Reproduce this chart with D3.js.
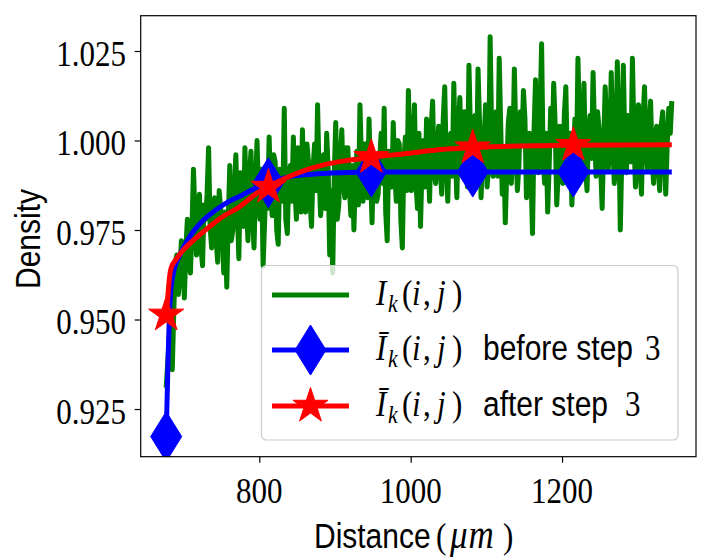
<!DOCTYPE html>
<html><head><meta charset="utf-8">
<script src="https://cdn.jsdelivr.net/npm/d3@7"></script>
<style>body{margin:0;background:#fff}</style>
</head><body>
<svg id="chart" width="712" height="559"></svg>
<script>
// ---------- data ----------
const xTicks = [800, 1000, 1200];
const xTickLabels = ["800", "1000", "1200"];
const yTicks = [0.925, 0.950, 0.975, 1.000, 1.025];
const yTickLabels = ["0.925", "0.950", "0.975", "1.000", "1.025"];

// I_k(i,j) samples (two interleaved sets of distances)
const greenX = [677,681,685,689,693,697,701,705,709,713,
717,721,725,729,733,737,741,745,749,753,
757,761,765,769,773,777,781,785,789,793,
797,801,805,809,813,817,821,825,829,833,
837,841,845,849,853,857,861,865,869,873,
877,881,885,889,893,897,901,905,909,913,
917,921,925,929,933,937,941,945,949,953,
957,961,965,969,973,977,981,985,989,993,
997,1001,1005,1009,1013,1017,1021,1025,1029,1033,
1037,1041,1045,1049,1053,1057,1061,1065,1069,1073,
1077,1081,1085,1089,1093,1097,1101,1105,1109,1113,
1117,1121,1125,1129,1133,1137,1141,1145,1149,1153,
1157,1161,1165,1169,1173,1177,1181,1185,1189,1193,
1197,1201,1205,1209,1213,1217,1221,1225,1229,1233,
1237,1241,1245,1249,1253,1257,1261,1265,1269,1273,
1277,1281,1285,1289,1293,1297,1301,1305,1309,1313,
1317,1321,1325,1329,1333,1337,1341,1345];
const greenY = [0.931,0.945,0.936,0.966,0.957,0.972,0.956,0.978,0.963,0.992,
0.968,0.985,0.965,0.978,0.998,0.970,0.984,0.966,0.981,0.963,
0.959,0.993,0.975,0.996,0.967,0.988,0.998,0.972,0.997,0.970,
1.000,0.978,0.965,0.990,1.001,0.979,0.994,0.971,0.988,1.009,
0.974,0.993,1.001,0.978,0.996,1.003,0.980,0.994,0.976,0.999,
1.010,0.979,0.996,1.002,0.968,0.963,1.005,0.982,1.003,0.984,
0.998,0.979,0.975,0.997,1.010,0.983,0.999,1.006,0.977,0.995,
0.985,1.002,1.009,0.972,0.996,1.005,0.983,0.999,0.970,1.001,
1.014,0.986,1.010,0.981,0.976,1.000,1.006,0.983,1.011,0.988,
1.004,0.985,1.015,0.983,1.002,1.016,0.984,1.012,0.990,1.003,
1.021,0.986,1.007,1.020,0.984,1.000,0.987,1.029,0.990,1.008,
1.023,0.985,0.977,1.005,0.988,1.020,0.986,1.008,1.014,0.984,
1.002,0.974,1.017,0.991,1.027,0.988,0.980,1.009,1.016,0.982,
1.004,0.988,1.015,0.990,0.982,1.006,1.023,0.989,1.016,0.986,
1.007,1.019,0.990,1.003,0.981,1.015,0.992,1.019,0.988,1.022,
0.975,1.021,0.991,1.006,1.023,0.987,1.010,0.985,1.015,0.992,
1.011,0.988,1.004,0.986,1.008,0.985,1.009,1.011];
const greenXB = [679,683,687,691,695,699,703,707,711,715,
719,723,727,731,735,739,743,747,751,755,
759,763,767,771,775,779,783,787,791,795,
799,803,807,811,815,819,823,827,831,835,
839,843,847,851,855,859,863,867,871,875,
879,883,887,891,895,899,903,907,911,915,
919,923,927,931,935,939,943,947,951,955,
959,963,967,971,975,979,983,987,991,995,
999,1003,1007,1011,1015,1019,1023,1027,1031,1035,
1039,1043,1047,1051,1055,1059,1063,1067,1071,1075,
1079,1083,1087,1091,1095,1099,1103,1107,1111,1115,
1119,1123,1127,1131,1135,1139,1143,1147,1151,1155,
1159,1163,1167,1171,1175,1179,1183,1187,1191,1195,
1199,1203,1207,1211,1215,1219,1223,1227,1231,1235,
1239,1243,1247,1251,1255,1259,1263,1267,1271,1275,
1279,1283,1287,1291,1295,1299,1303,1307,1311,1315,
1319,1323,1327,1331,1335,1339,1343];
const greenYB = [0.938,0.955,0.952,0.968,0.962,0.966,0.970,0.967,0.975,0.980,
0.974,0.970,0.982,0.985,0.976,0.979,0.972,0.986,0.975,0.980,
0.978,0.972,0.985,0.980,0.991,0.976,0.983,0.990,0.979,0.987,
0.984,0.992,0.977,0.981,0.986,0.996,0.975,0.992,0.983,0.978,
0.990,0.983,0.987,0.998,0.980,0.988,0.999,0.983,0.992,0.986,
0.991,0.987,0.981,0.992,0.986,0.990,0.978,0.995,0.988,0.998,
0.987,0.993,0.990,0.982,0.994,0.999,0.984,0.990,0.996,0.983,
0.994,0.988,0.980,0.997,0.987,0.991,1.000,0.978,0.994,0.986,
0.995,0.999,0.988,1.002,0.993,0.987,0.996,1.003,0.991,0.998,
0.992,1.006,0.994,0.999,0.990,0.997,1.004,0.993,1.008,0.987,
1.002,0.996,0.991,1.005,0.995,1.010,0.993,1.002,0.998,0.990,
1.004,0.997,0.992,1.009,0.996,1.001,0.993,0.999,1.006,0.994,
0.990,1.003,0.997,1.008,0.995,1.002,0.993,0.999,1.004,0.991,
0.998,1.007,0.994,1.002,0.996,0.992,1.005,0.999,0.993,1.003,
0.995,1.002,1.008,0.993,0.999,1.004,0.997,1.001,0.994,1.003,
0.996,0.999,1.007,0.994,1.001,0.997,0.992,1.006,0.998,1.003,
0.995,1.000,0.993,1.004,0.996,0.999,1.002];

const blueX = [677,679,681,683,686,695,708,725,744,760,775,790,812,840,870,906,960,1345];
const blueY = [0.9173,0.935,0.950,0.958,0.9625,0.968,0.9731,0.9775,0.9808,0.9830,0.9845,0.9862,0.9882,0.9899,0.9906,0.9910,0.9912,0.9912];

const redX = [677,679,681,683,690,700,715,730,750,774,795,812,835,862,885,906,948,995,1040,1082,1130,1188,1215,1345];
const redY = [0.9513,0.9560,0.9610,0.9640,0.9668,0.9695,0.9725,0.9752,0.9785,0.9815,0.9850,0.9870,0.9895,0.9918,0.9932,0.9941,0.9953,0.9964,0.9975,0.9980,0.9984,0.9986,0.9987,0.9988];

const markerX = [677, 812, 948, 1082, 1215];
const blueMarkerY = [0.9173, 0.9882, 0.9912, 0.9912, 0.9912];
const redMarkerY = [0.9513, 0.9870, 0.9953, 0.9980, 0.9987];

// ---------- layout ----------
const L = 140.7, R = 696, T = 15.7, B = 456.7;
const K = 1.17;
const SERIF = "'Liberation Serif','Times New Roman',serif";
const SANS = "'Liberation Sans',Arial,sans-serif";
const GREEN = "#008000", BLUE = "#0000ff", RED = "#ff0000";

const svg = d3.select("#chart");
const x = d3.scaleLinear().domain([643.3, 1377]).range([L, R]);
const y = d3.scaleLinear().domain([0.91168, 1.03486]).range([B, T]);

svg.append("defs").append("clipPath").attr("id", "clip")
  .append("rect").attr("x", L).attr("y", T).attr("width", R - L).attr("height", B - T);

const plot = svg.append("g").attr("clip-path", "url(#clip)");

function starPath(Ro) {
  const ri = Ro * 0.381966;
  const pts = [];
  for (let i = 0; i < 10; i++) {
    const a = -Math.PI / 2 + i * Math.PI / 5;
    const r = i % 2 === 0 ? Ro : ri;
    pts.push([r * Math.cos(a), r * Math.sin(a)]);
  }
  return "M" + pts.map(p => p[0].toFixed(2) + "," + p[1].toFixed(2)).join("L") + "Z";
}
const diamondPath = "M0,-25L15.5,0L0,25L-15.5,0Z";
const STAR = starPath(18.5);

// green
const gData = greenX.map((d, i) => [d, greenY[i]])
  .concat(greenXB.map((d, i) => [d, greenYB[i]]))
  .sort((a, b) => a[0] - b[0]);
plot.append("path").datum(gData)
  .attr("d", d3.line().x(d => x(d[0])).y(d => y(d[1])))
  .attr("fill", "none").attr("stroke", GREEN).attr("stroke-width", 5)
  .attr("stroke-linejoin", "round");

// blue
const bData = blueX.map((d, i) => [d, blueY[i]]);
plot.append("path").datum(bData)
  .attr("d", d3.line().curve(d3.curveMonotoneX).x(d => x(d[0])).y(d => y(d[1])))
  .attr("fill", "none").attr("stroke", BLUE).attr("stroke-width", 5)
  .attr("stroke-linejoin", "round");
plot.selectAll(".bm").data(markerX).enter().append("path")
  .attr("d", diamondPath)
  .attr("transform", (d, i) => `translate(${x(d)},${y(blueMarkerY[i])})`)
  .attr("fill", BLUE).attr("stroke", BLUE).attr("stroke-width", 1);

// red
const rData = redX.map((d, i) => [d, redY[i]]);
plot.append("path").datum(rData)
  .attr("d", d3.line().curve(d3.curveMonotoneX).x(d => x(d[0])).y(d => y(d[1])))
  .attr("fill", "none").attr("stroke", RED).attr("stroke-width", 5)
  .attr("stroke-linejoin", "round");
plot.selectAll(".rm").data(markerX).enter().append("path")
  .attr("d", STAR)
  .attr("transform", (d, i) => `translate(${x(d)},${y(redMarkerY[i])})`)
  .attr("fill", RED).attr("stroke", RED).attr("stroke-width", 1);

// frame
svg.append("rect").attr("x", L).attr("y", T).attr("width", R - L).attr("height", B - T)
  .attr("fill", "none").attr("stroke", "#000").attr("stroke-width", 1.2);

// axes ticks
svg.append("g").attr("transform", `translate(0,${B})`)
  .call(d3.axisBottom(x).tickValues(xTicks).tickSize(6).tickFormat(""))
  .call(g => g.select(".domain").remove())
  .selectAll("line").attr("stroke", "#000").attr("stroke-width", 1.2);
svg.append("g").attr("transform", `translate(${L},0)`)
  .call(d3.axisLeft(y).tickValues(yTicks).tickSize(6).tickFormat(""))
  .call(g => g.select(".domain").remove())
  .selectAll("line").attr("stroke", "#000").attr("stroke-width", 1.2);

function txt(tx, ty, rot) {
  return svg.append("text")
    .attr("transform", `translate(${tx},${ty})` + (rot ? ` rotate(${rot})` : "") + ` scale(1,${K})`)
    .attr("fill", "#000");
}

// tick labels
xTicks.forEach((v, i) => {
  txt(x(v), 503).attr("text-anchor", "middle").attr("font-family", SERIF)
    .attr("font-size", 31).text(xTickLabels[i]);
});
yTicks.forEach((v, i) => {
  txt(126, y(v) + 14.5).attr("text-anchor", "end").attr("font-family", SERIF)
    .attr("font-size", 31).text(yTickLabels[i]);
});

// axis labels
const xl = txt(0, 548).attr("font-size", 30);
xl.append("tspan").attr("x", 314).attr("font-family", SANS).text("Distance");
xl.append("tspan").attr("x", 436).attr("font-family", SERIF).attr("font-size", 31).text("(");
xl.append("tspan").attr("x", 450).attr("font-family", SERIF).attr("font-style", "italic")
  .attr("font-size", 35).attr("letter-spacing", 1).text("μm");
xl.append("tspan").attr("x", 503).attr("font-family", SERIF).attr("font-size", 31).text(")");

txt(40, 239, -90).attr("text-anchor", "middle").attr("font-family", SANS)
  .attr("font-size", 30).text("Density");

// legend
const leg = svg.append("g");
leg.append("rect").attr("x", 261.5).attr("y", 265.5).attr("width", 416.5).attr("height", 174.5)
  .attr("rx", 5).attr("fill", "#fff").attr("fill-opacity", 0.8)
  .attr("stroke", "#cccccc").attr("stroke-width", 1.2);

const rows = [
  {c: 295, color: GREEN, bar: false, marker: null, words: null, n3: null},
  {c: 350, color: BLUE, bar: true, marker: diamondPath, words: "before step", n3: 645},
  {c: 406, color: RED, bar: true, marker: STAR, words: "after step", n3: 625}
];
rows.forEach(r => {
  leg.append("line").attr("x1", 272).attr("x2", 349).attr("y1", r.c).attr("y2", r.c)
    .attr("stroke", r.color).attr("stroke-width", 5);
  if (r.marker) {
    leg.append("path").attr("d", r.marker).attr("transform", `translate(310.5,${r.c})`)
      .attr("fill", r.color).attr("stroke", r.color).attr("stroke-width", 1);
  }
  const t = txt(0, r.c + 10).attr("font-family", SERIF).attr("font-size", 31);
  t.append("tspan").attr("x", 376).attr("font-style", "italic").text(r.bar ? "Ī" : "I");
  t.append("tspan").attr("x", 388).attr("y", 6).attr("font-style", "italic").attr("font-size", 22).text("k");
  t.append("tspan").attr("x", 402).attr("y", 0).text("(");
  t.append("tspan").attr("x", 412).attr("font-style", "italic").text("i");
  t.append("tspan").attr("x", 423).text(",");
  t.append("tspan").attr("x", 437).attr("font-style", "italic").text("j");
  t.append("tspan").attr("x", 452).text(")");
  if (r.words) {
    t.append("tspan").attr("x", 483).attr("font-family", SANS).attr("font-size", 30).text(r.words);
    t.append("tspan").attr("x", r.n3).text("3");
  }
});
</script>
</body></html>
